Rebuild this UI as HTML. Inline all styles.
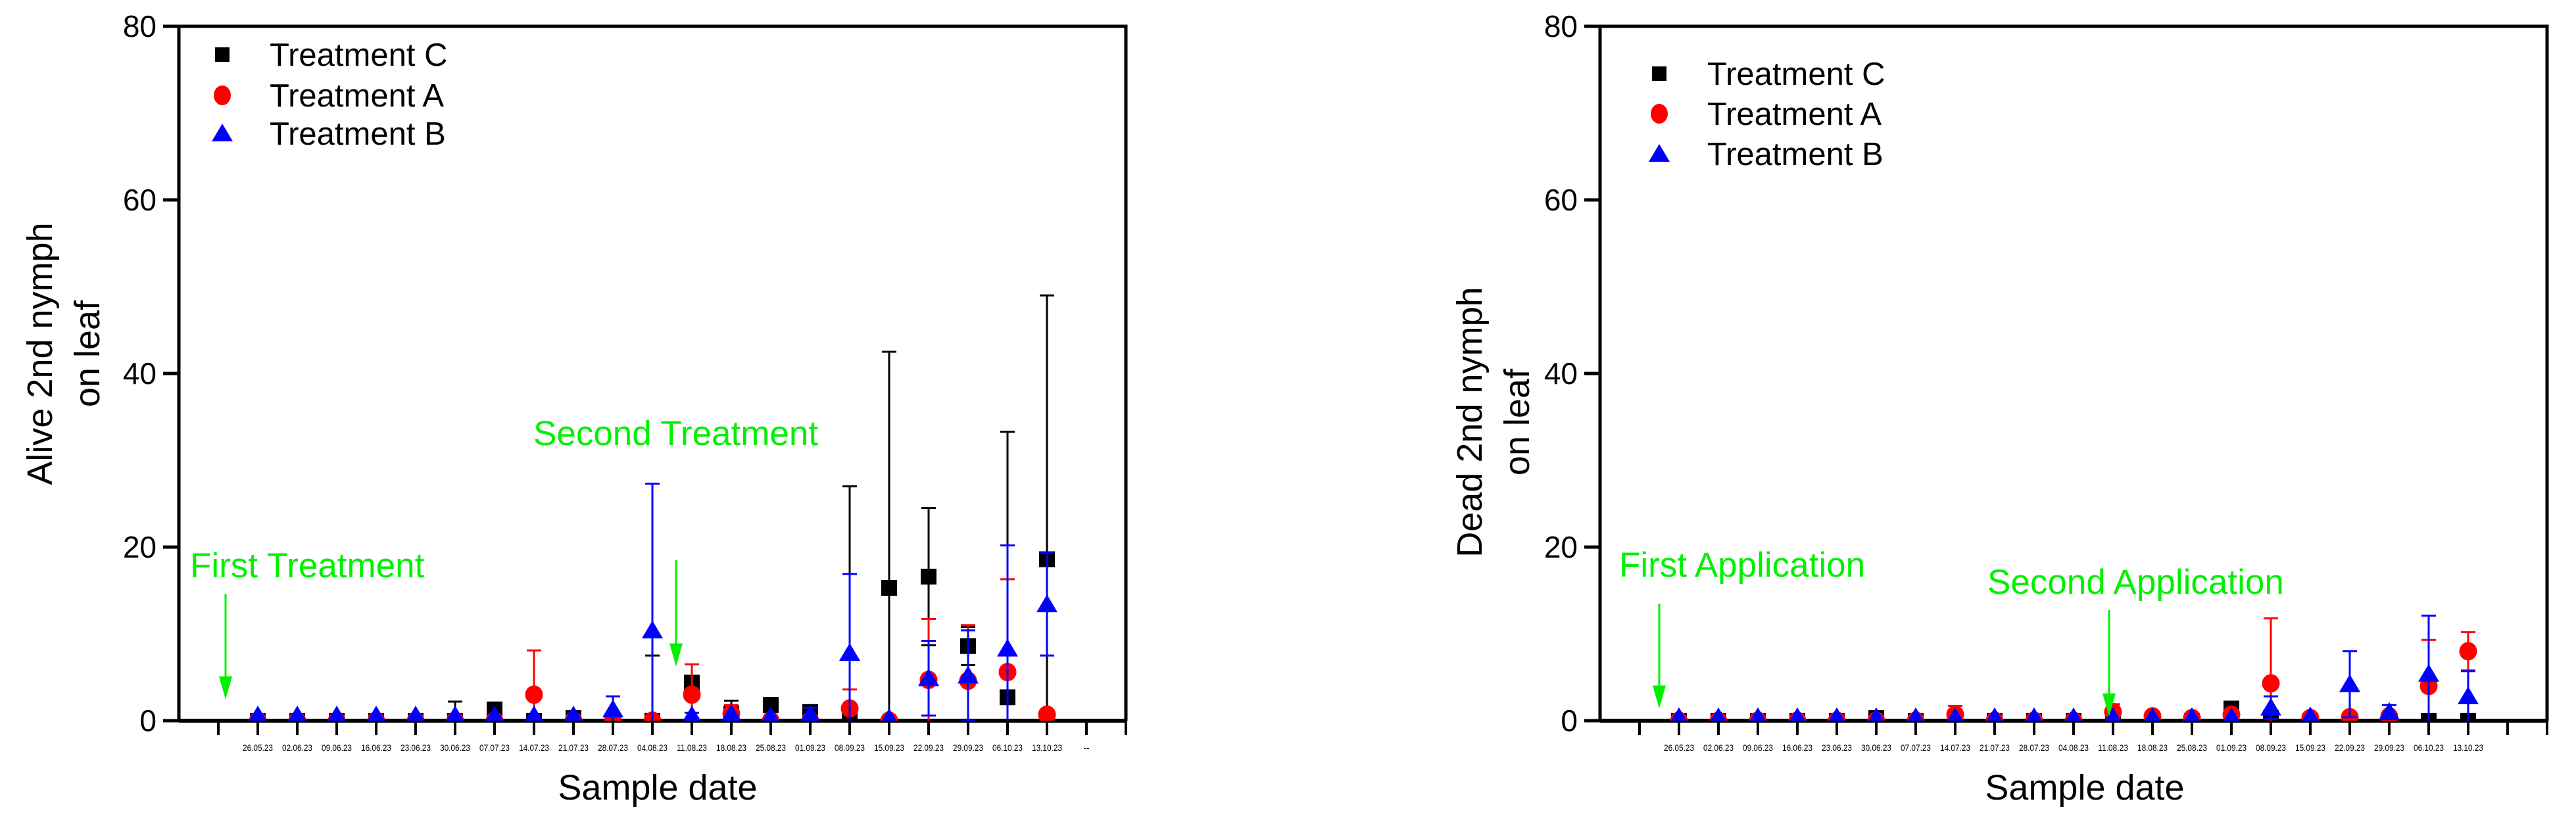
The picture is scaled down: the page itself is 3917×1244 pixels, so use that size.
<!DOCTYPE html>
<html><head><meta charset="utf-8">
<style>
html,body{margin:0;padding:0;background:#fff;width:3917px;height:1244px;overflow:hidden;}
svg{display:block;font-family:"Liberation Sans",Arial,sans-serif;}
</style></head>
<body>
<svg id="chart" width="3917" height="1244" viewBox="0 0 3917 1244" xmlns="http://www.w3.org/2000/svg">
<defs>
<clipPath id="clipL"><rect x="272" y="30" width="1440" height="1066"/></clipPath>
<clipPath id="clipR"><rect x="2433" y="30" width="1440" height="1066"/></clipPath>
</defs>
</svg>
<script>
// ---- data ----
const categories = ["", "26.05.23","02.06.23","09.06.23","16.06.23","23.06.23","30.06.23","07.07.23","14.07.23","21.07.23","28.07.23","04.08.23","11.08.23","18.08.23","25.08.23","01.09.23","08.09.23","15.09.23","22.09.23","29.09.23","06.10.23","13.10.23","--"];
const rightCategories = ["", "26.05.23","02.06.23","09.06.23","16.06.23","23.06.23","30.06.23","07.07.23","14.07.23","21.07.23","28.07.23","04.08.23","11.08.23","18.08.23","25.08.23","01.09.23","08.09.23","15.09.23","22.09.23","29.09.23","06.10.23","13.10.23",""];
const yTicks = [0, 20, 40, 60, 80];

// Alive (left) – index aligned with categories
const aliveC    = [null,0,0,0,0,0,0,1.3,0,0.3,0,0,4.4,0.8,1.8,1.0,0.5,15.3,16.6,8.6,2.7,18.6,null];
const aliveCErr = [null,0,0,0,0,0,2.2,0,0,0,0,7.5,0,1.5,0.8,0.5,26.5,27.2,7.9,2.2,30.6,30.4,null];
const aliveA    = [null,0,0,0,0,0,0,0,3.0,0,0,0,3.0,0.8,0,0,1.4,0,4.7,4.6,5.6,0.7,null];
const aliveAErr = [null,0,0,0,0,0,0,0,5.1,0,0,0,3.5,1.0,0,0,2.2,0,7.0,6.4,10.7,0,null];
const aliveB    = [null,0.6,0.6,0.6,0.6,0.6,0.6,0.6,0.6,0.6,1.3,10.4,0.6,0.8,0.5,0.7,7.8,0.3,4.9,5.2,8.3,13.4,null];
const aliveBErr = [null,0,0,0,0,0,0,0,0,0,1.5,16.9,0.3,0,0,0.8,9.1,0,4.3,5.2,11.9,5.9,null];

// Dead (right)
const deadC    = [null,0,0,0,0,0,0.3,0,0,0,0,0,0,0,0,1.4,0.3,0,0,0,0,0,null];
const deadCErr = [null,0,0,0,0,0,0,0,0,0,0,0,0,0,0,0,0,0,0,0,0,0,null];
const deadA    = [null,0,0,0,0,0,0,0,0.7,0,0,0,1.0,0.5,0.3,0.7,4.3,0.3,0.4,0.5,4.0,8.0,null];
const deadAErr = [null,0,0,0,0,0,0,0,1.0,0,0,0,0.9,0,0,0,7.5,0,0,0,5.3,2.2,null];
const deadB    = [null,0.4,0.4,0.4,0.4,0.4,0.4,0.4,0.4,0.4,0.4,0.4,0.4,0.4,0.4,0.4,1.5,0.5,4.2,1.0,5.4,2.8,null];
const deadBErr = [null,0,0,0,0,0,0,0,0,0,0,0,0,0,0,0,1.3,0,3.8,0.8,6.7,2.9,null];

const NS = "http://www.w3.org/2000/svg";
const svg = document.getElementById('chart');
function mk(tag, attrs, parent){
  const e = document.createElementNS(NS, tag);
  for (const k in attrs) e.setAttribute(k, attrs[k]);
  (parent||svg).appendChild(e);
  return e;
}

function drawChart(cfg){
  const x0 = cfg.x0, x1 = cfg.x1, yTop = 40, yZero = 1096;
  const step = (x1 - x0) / 24;
  const xs = i => x0 + (i + 1) * step;
  const ys = v => yZero - v * (yZero - yTop) / 80;

  const g = mk('g', {});
  
  

  const frame = mk('path', {d:`M${x0} ${yZero} V${yTop} H${x1} V${yZero}`, fill:'none', stroke:'#000', 'stroke-width':5}, g);
  
  
  const xaxis = mk('line', {x1:x0, y1:yZero, x2:x1+2, y2:yZero, stroke:'#000', 'stroke-width':6}, g);
  
  

  yTicks.forEach(t => {
    const y = ys(t);
    const tk = mk('line', {x1:x0-24, y1:y, x2:x0, y2:y, stroke:'#000', 'stroke-width':5}, g);
    
    
    const tl = mk('text', {x:x0-34, y:y+16, 'font-size':46, 'text-anchor':'end', fill:'#000'}, g);
    tl.textContent = t;
    
    
  });

  for (let k = 1; k <= 24; k++){
    const x = x0 + k * step;
    const tk = mk('line', {x1:x, y1:yZero, x2:x, y2:yZero+22, stroke:'#000', 'stroke-width':4}, g);
    
    
  }
  cfg.cats.forEach((c, i) => {
    if (!c) return;
    const attrs = {x:xs(i), y:1142, 'font-size':14, 'text-anchor':'middle', fill:'#000'};
    if (c.length > 3){ attrs.textLength = 46; attrs.lengthAdjust = 'spacingAndGlyphs'; }
    const tl = mk('text', attrs, g);
    tl.textContent = c;
    
    
  });

  const pg = mk('g', {'clip-path':`url(#${cfg.clip})`}, g);
  cfg.series.forEach(s => {
    const sg = mk('g', {}, pg);
    
    
    s.vals.forEach((v, i) => {
      if (v === null) return;
      const e = s.errs[i] || 0;
      const x = xs(i), y = ys(v);
      if (e > 0){
        const yt = ys(v + e), yb = ys(v - e);
        const eb = mk('path', {d:`M${x} ${yb} V${yt} M${x-11} ${yt} H${x+11} M${x-11} ${yb} H${x+11}`, stroke:s.color, 'stroke-width':3, fill:'none'}, sg);
        
        
      }
      let m;
      if (s.shape === 'square') m = mk('rect', {x:x-12, y:y-12, width:24, height:24, fill:s.color}, sg);
      else if (s.shape === 'circle') m = mk('ellipse', {cx:x, cy:y, rx:13.5, ry:14, fill:s.color}, sg);
      else m = mk('polygon', {points:`${x},${y-15} ${x-16},${y+12} ${x+16},${y+12}`, fill:s.color}, sg);
      
      
    });
  });

  const lg = mk('g', {}, g);
  
  
  const labels = ['Treatment C', 'Treatment A', 'Treatment B'];
  const colors = ['#000', '#f00', '#00f'];
  labels.forEach((lab, j) => {
    const cy = cfg.legY[j], mx = cfg.legX;
    let m;
    if (j === 0) m = mk('rect', {x:mx-11, y:cy-11, width:22, height:22, fill:colors[j]}, lg);
    else if (j === 1) m = mk('ellipse', {cx:mx, cy:cy, rx:13, ry:15, fill:colors[j]}, lg);
    else m = mk('polygon', {points:`${mx},${cy-15} ${mx-16},${cy+12} ${mx+16},${cy+12}`, fill:colors[j]}, lg);
    
    
    const t = mk('text', {x:cfg.legTextX, y:cy+17, 'font-size':49, fill:'#000'}, lg);
    t.textContent = lab;
    
    
  });

  const yt = mk('text', {transform:`translate(${cfg.yTitleX},${cfg.yTitleY}) rotate(-90)`, 'font-size':54, 'text-anchor':'middle', fill:'#000'}, g);
  
  
  const t1 = mk('tspan', {x:0, y:0}, yt); t1.textContent = cfg.yTitle1;
  const t2 = mk('tspan', {x:0, y:72}, yt); t2.textContent = 'on leaf';
  const xt = mk('text', {x:cfg.xTitleX, y:1216, 'font-size':54, 'text-anchor':'middle', fill:'#000'}, g);
  xt.textContent = 'Sample date';
  
  

  cfg.notes.forEach(n => {
    const t = mk('text', {x:n.tx, y:n.ty, 'font-size':53, fill:'#00f000'}, g);
    t.textContent = n.text;
    
    
    const a = mk('path', {d:`M${n.ax} ${n.ay1} V${n.ay2-26} M${n.ax-8} ${n.ay2-28} L${n.ax} ${n.ay2} L${n.ax+8} ${n.ay2-28} Z`, stroke:'#00f000', 'stroke-width':3, fill:'#00f000'}, g);
    
    
  });
}

drawChart({
  name:'alive-chart', x0:272, x1:1712, clip:'clipL', cats:categories,
  series:[
    {name:'series-treatment-c', vals:aliveC, errs:aliveCErr, color:'#000', shape:'square'},
    {name:'series-treatment-a', vals:aliveA, errs:aliveAErr, color:'#f00', shape:'circle'},
    {name:'series-treatment-b', vals:aliveB, errs:aliveBErr, color:'#00f', shape:'triangle'}
  ],
  legX:338, legTextX:410, legY:[83,145,203],
  yTitle1:'Alive 2nd nymph', yTitleX:79, yTitleY:538, xTitleX:1000,
  notes:[
    {text:'First Treatment', tx:289, ty:878, ax:343, ay1:903, ay2:1058},
    {text:'Second Treatment', tx:811, ty:677, ax:1028, ay1:852, ay2:1008}
  ]
});
drawChart({
  name:'dead-chart', x0:2433, x1:3873, clip:'clipR', cats:rightCategories,
  series:[
    {name:'series-treatment-c', vals:deadC, errs:deadCErr, color:'#000', shape:'square'},
    {name:'series-treatment-a', vals:deadA, errs:deadAErr, color:'#f00', shape:'circle'},
    {name:'series-treatment-b', vals:deadB, errs:deadBErr, color:'#00f', shape:'triangle'}
  ],
  legX:2523, legTextX:2596, legY:[112,173,234],
  yTitle1:'Dead 2nd nymph', yTitleX:2253, yTitleY:642, xTitleX:3170,
  notes:[
    {text:'First Application', tx:2462, ty:877, ax:2523, ay1:918, ay2:1072},
    {text:'Second Application', tx:3022, ty:903, ax:3207, ay1:928, ay2:1084}
  ]
});
</script>
</body></html>
